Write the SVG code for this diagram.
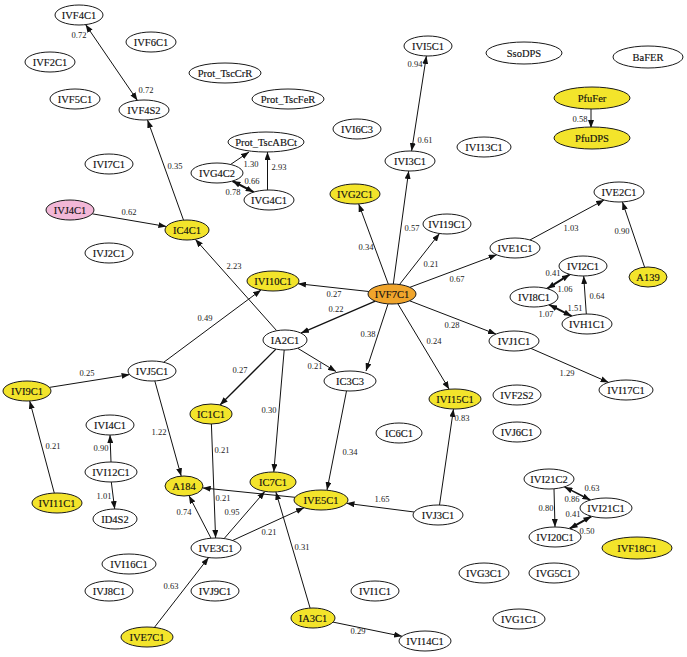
<svg xmlns="http://www.w3.org/2000/svg" width="687" height="657" viewBox="0 0 687 657">
<style>
.n ellipse{fill:#fff;stroke:#1a1a1a;stroke-width:1}
.n.y ellipse{fill:#f3e42b}
.n.o ellipse{fill:#f0a52c}
.n.p ellipse{fill:#f2b7d7}
.n text{font-family:"Liberation Serif",serif;font-size:10.5px;fill:#111;text-anchor:middle;stroke:#111;stroke-width:0.15}
.e line{stroke:#111;stroke-width:1;marker-end:url(#ah)}
.e line.d{marker-start:url(#ah)}
.e line.b{stroke-width:2}
.l text{font-family:"Liberation Serif",serif;font-size:8.5px;fill:#222;text-anchor:middle}
</style>
<defs>
<marker id="ah" viewBox="0 0 8 6" refX="8" refY="3" markerWidth="8" markerHeight="6" markerUnits="userSpaceOnUse" orient="auto-start-reverse"><path d="M0,0 L8,3 L0,6 z" fill="#111"/></marker>
</defs>
<rect width="687" height="657" fill="#fff"/>
<g id="connectors" class="e">
<line class="d" x1="137.4" y1="100.4" x2="85.6" y2="24.6"/>
<line x1="183.5" y1="220.1" x2="147.5" y2="119.9"/>
<line x1="92.2" y1="213.8" x2="166.4" y2="226.5"/>
<line x1="276.7" y1="330.7" x2="195.3" y2="239.3"/>
<line x1="163.7" y1="362.3" x2="261.1" y2="289.9"/>
<line x1="49.4" y1="387.4" x2="129.6" y2="374.6"/>
<line x1="54.3" y1="493.1" x2="29.7" y2="400.9"/>
<line x1="154.8" y1="380.9" x2="181.2" y2="476.1"/>
<line x1="275.9" y1="349.1" x2="220" y2="405" style="stroke-width:1.3"/>
<line x1="284.2" y1="350" x2="273.8" y2="472"/>
<line x1="297.6" y1="348.2" x2="336" y2="371.5"/>
<line x1="368.8" y1="291.5" x2="298" y2="283.7"/>
<line x1="375.3" y1="301.2" x2="301" y2="333.1" style="stroke-width:1.3"/>
<line x1="388" y1="304" x2="366" y2="371"/>
<line x1="397.8" y1="303.7" x2="449.2" y2="389.3"/>
<line x1="409.6" y1="300.8" x2="496" y2="334.1"/>
<line x1="409.9" y1="287.3" x2="496.7" y2="254.8"/>
<line x1="399.5" y1="284.5" x2="439.5" y2="233.5"/>
<line x1="393.3" y1="284" x2="408.7" y2="171"/>
<line x1="388.3" y1="284.1" x2="358.7" y2="203.9"/>
<line class="d" x1="411.6" y1="151" x2="426.4" y2="56"/>
<line x1="529.9" y1="240" x2="604.1" y2="200"/>
<line x1="644.6" y1="267.2" x2="622.4" y2="201.9"/>
<line class="d b" x1="547.2" y1="288.7" x2="569.8" y2="274.4"/>
<line x1="586.3" y1="314" x2="583.7" y2="276"/>
<line class="d b" x1="549.2" y1="304.7" x2="571.6" y2="316.1"/>
<line x1="530.9" y1="348.4" x2="608.6" y2="382.4"/>
<line x1="439.5" y1="505" x2="453.5" y2="409"/>
<line x1="414.2" y1="512" x2="346.5" y2="503.3"/>
<line x1="346.5" y1="391" x2="327" y2="490"/>
<line x1="295" y1="497.3" x2="202.7" y2="487.9"/>
<line x1="211.4" y1="424" x2="215.6" y2="538"/>
<line x1="211" y1="538.2" x2="189" y2="495.7"/>
<line x1="224.2" y1="538.5" x2="264.9" y2="491.4"/>
<line x1="232.5" y1="540.5" x2="304" y2="507.8"/>
<line x1="154.4" y1="627.4" x2="208.6" y2="557.6"/>
<line x1="310.1" y1="608.1" x2="275.9" y2="491.9"/>
<line x1="333" y1="622.1" x2="402.1" y2="636.3"/>
<line x1="111" y1="462" x2="110" y2="435"/>
<line x1="111.3" y1="482" x2="114.7" y2="509"/>
<line x1="230.5" y1="164.5" x2="249" y2="152"/>
<line x1="267.5" y1="190" x2="267.5" y2="152"/>
<line class="d b" x1="232.5" y1="181" x2="253.7" y2="192.1"/>
<line x1="591" y1="108" x2="591" y2="128"/>
<line x1="554" y1="489" x2="555" y2="527"/>
<line class="d" x1="564.5" y1="486.9" x2="590.3" y2="500" style="stroke-width:1.5"/>
<line class="d b" x1="591.4" y1="516.3" x2="569.6" y2="528.7"/>
</g>
<g id="edge-labels" class="l">
<text x="79" y="38">0.72</text>
<text x="146" y="93">0.72</text>
<text x="175" y="169">0.35</text>
<text x="129" y="215">0.62</text>
<text x="234" y="269">2.23</text>
<text x="205" y="321">0.49</text>
<text x="87" y="376">0.25</text>
<text x="53" y="449">0.21</text>
<text x="159" y="435">1.22</text>
<text x="240" y="373">0.27</text>
<text x="269" y="413">0.30</text>
<text x="315" y="369">0.21</text>
<text x="334" y="297">0.27</text>
<text x="336" y="312">0.22</text>
<text x="368" y="337">0.38</text>
<text x="434" y="344">0.24</text>
<text x="452" y="328">0.28</text>
<text x="457" y="282">0.67</text>
<text x="431" y="267">0.21</text>
<text x="412" y="231">0.57</text>
<text x="366" y="250">0.34</text>
<text x="415" y="67">0.94</text>
<text x="425" y="143">0.61</text>
<text x="571" y="231">1.03</text>
<text x="622" y="234">0.90</text>
<text x="553" y="276">0.41</text>
<text x="565" y="292">1.06</text>
<text x="597" y="299">0.64</text>
<text x="575" y="311">1.51</text>
<text x="546" y="317">1.07</text>
<text x="567" y="376">1.29</text>
<text x="462" y="421">0.83</text>
<text x="382" y="502">1.65</text>
<text x="350" y="455">0.34</text>
<text x="223" y="501">0.21</text>
<text x="222" y="453">0.21</text>
<text x="184" y="515">0.74</text>
<text x="232" y="515">0.95</text>
<text x="269" y="535">0.21</text>
<text x="171" y="589">0.63</text>
<text x="302" y="550">0.31</text>
<text x="358" y="634">0.29</text>
<text x="101" y="451">0.90</text>
<text x="104" y="499">1.01</text>
<text x="251" y="167">1.30</text>
<text x="279" y="170">2.93</text>
<text x="252" y="184">0.66</text>
<text x="233" y="195">0.78</text>
<text x="580" y="122">0.58</text>
<text x="546" y="511">0.80</text>
<text x="592" y="491">0.63</text>
<text x="572" y="502">0.86</text>
<text x="573" y="517">0.41</text>
<text x="587" y="534">0.50</text>
</g>
<g id="IVF4C1" class="n"><ellipse cx="79" cy="15" rx="24" ry="10"/><text x="79" y="18.5">IVF4C1</text></g>
<g id="IVF6C1" class="n"><ellipse cx="151" cy="42" rx="25" ry="10"/><text x="151" y="45.5">IVF6C1</text></g>
<g id="IVF2C1" class="n"><ellipse cx="50" cy="62" rx="25" ry="10"/><text x="50" y="65.5">IVF2C1</text></g>
<g id="IVF5C1" class="n"><ellipse cx="75" cy="99" rx="25" ry="10"/><text x="75" y="102.5">IVF5C1</text></g>
<g id="IVF4S2" class="n"><ellipse cx="144" cy="110" rx="25" ry="10"/><text x="144" y="113.5">IVF4S2</text></g>
<g id="Prot_TscCrR" class="n"><ellipse cx="225" cy="73" rx="36" ry="10"/><text x="225" y="76.5">Prot_TscCrR</text></g>
<g id="Prot_TscFeR" class="n"><ellipse cx="288" cy="99" rx="36" ry="10"/><text x="288" y="102.5">Prot_TscFeR</text></g>
<g id="IVI6C3" class="n"><ellipse cx="357" cy="129" rx="24" ry="10"/><text x="357" y="132.5">IVI6C3</text></g>
<g id="Prot_TscABCt" class="n"><ellipse cx="266" cy="142" rx="38" ry="10"/><text x="266" y="145.5">Prot_TscABCt</text></g>
<g id="IVG4C2" class="n"><ellipse cx="217" cy="173" rx="26" ry="10"/><text x="217" y="176.5">IVG4C2</text></g>
<g id="IVG4C1" class="n"><ellipse cx="269" cy="200" rx="25" ry="10"/><text x="269" y="203.5">IVG4C1</text></g>
<g id="IVI5C1" class="n"><ellipse cx="428" cy="46" rx="24" ry="10"/><text x="428" y="49.5">IVI5C1</text></g>
<g id="IVI3C1" class="n"><ellipse cx="410" cy="161" rx="25" ry="10"/><text x="410" y="164.5">IVI3C1</text></g>
<g id="IVG2C1" class="n y"><ellipse cx="355" cy="194" rx="25" ry="10"/><text x="355" y="197.5">IVG2C1</text></g>
<g id="SsoDPS" class="n"><ellipse cx="524" cy="53" rx="38" ry="11"/><text x="524" y="56.5">SsoDPS</text></g>
<g id="BaFER" class="n"><ellipse cx="648" cy="57" rx="35" ry="11"/><text x="648" y="60.5">BaFER</text></g>
<g id="PfuFer" class="n y"><ellipse cx="592" cy="98" rx="38" ry="11"/><text x="592" y="101.5">PfuFer</text></g>
<g id="PfuDPS" class="n y"><ellipse cx="592" cy="138" rx="38" ry="11"/><text x="592" y="141.5">PfuDPS</text></g>
<g id="IVI13C1" class="n"><ellipse cx="484" cy="147" rx="27" ry="10"/><text x="484" y="150.5">IVI13C1</text></g>
<g id="IVE2C1" class="n"><ellipse cx="619" cy="192" rx="25" ry="10"/><text x="619" y="195.5">IVE2C1</text></g>
<g id="IVI7C1" class="n"><ellipse cx="109" cy="164" rx="24" ry="10"/><text x="109" y="167.5">IVI7C1</text></g>
<g id="IVJ4C1" class="n p"><ellipse cx="70" cy="210" rx="24" ry="10"/><text x="70" y="213.5">IVJ4C1</text></g>
<g id="IC4C1" class="n y"><ellipse cx="187" cy="230" rx="22" ry="10"/><text x="187" y="233.5">IC4C1</text></g>
<g id="IVJ2C1" class="n"><ellipse cx="109" cy="253" rx="24" ry="10"/><text x="109" y="256.5">IVJ2C1</text></g>
<g id="IVI10C1" class="n y"><ellipse cx="273" cy="281" rx="26" ry="10"/><text x="273" y="284.5">IVI10C1</text></g>
<g id="IVF7C1" class="n o"><ellipse cx="392" cy="294" rx="24" ry="10"/><text x="392" y="297.5">IVF7C1</text></g>
<g id="IVI19C1" class="n"><ellipse cx="447" cy="224" rx="24" ry="10"/><text x="447" y="227.5">IVI19C1</text></g>
<g id="IVE1C1" class="n"><ellipse cx="515" cy="248" rx="25" ry="10"/><text x="515" y="251.5">IVE1C1</text></g>
<g id="IVI2C1" class="n"><ellipse cx="583" cy="266" rx="24" ry="10"/><text x="583" y="269.5">IVI2C1</text></g>
<g id="A139" class="n y"><ellipse cx="648" cy="277" rx="19" ry="10"/><text x="648" y="280.5">A139</text></g>
<g id="IVI8C1" class="n"><ellipse cx="534" cy="297" rx="24" ry="10"/><text x="534" y="300.5">IVI8C1</text></g>
<g id="IVH1C1" class="n"><ellipse cx="587" cy="324" rx="25" ry="10"/><text x="587" y="327.5">IVH1C1</text></g>
<g id="IA2C1" class="n"><ellipse cx="285" cy="340" rx="22" ry="10"/><text x="285" y="343.5">IA2C1</text></g>
<g id="IVJ1C1" class="n"><ellipse cx="514" cy="341" rx="25" ry="10"/><text x="514" y="344.5">IVJ1C1</text></g>
<g id="IVJ5C1" class="n"><ellipse cx="152" cy="371" rx="24" ry="10"/><text x="152" y="374.5">IVJ5C1</text></g>
<g id="IC3C3" class="n"><ellipse cx="350" cy="381" rx="26" ry="10"/><text x="350" y="384.5">IC3C3</text></g>
<g id="IVI9C1" class="n y"><ellipse cx="27" cy="391" rx="24" ry="10"/><text x="27" y="394.5">IVI9C1</text></g>
<g id="IVI17C1" class="n"><ellipse cx="626" cy="390" rx="27" ry="10"/><text x="626" y="393.5">IVI17C1</text></g>
<g id="IVF2S2" class="n"><ellipse cx="517" cy="395" rx="24" ry="10"/><text x="517" y="398.5">IVF2S2</text></g>
<g id="IVI15C1" class="n y"><ellipse cx="455" cy="399" rx="26" ry="10"/><text x="455" y="402.5">IVI15C1</text></g>
<g id="IC1C1" class="n y"><ellipse cx="211" cy="414" rx="21" ry="10"/><text x="211" y="417.5">IC1C1</text></g>
<g id="IVI4C1" class="n"><ellipse cx="110" cy="425" rx="24" ry="10"/><text x="110" y="428.5">IVI4C1</text></g>
<g id="IC6C1" class="n"><ellipse cx="399" cy="433" rx="23" ry="10"/><text x="399" y="436.5">IC6C1</text></g>
<g id="IVJ6C1" class="n"><ellipse cx="517" cy="432" rx="24" ry="10"/><text x="517" y="435.5">IVJ6C1</text></g>
<g id="IVI12C1" class="n"><ellipse cx="111" cy="472" rx="26" ry="10"/><text x="111" y="475.5">IVI12C1</text></g>
<g id="IC7C1" class="n y"><ellipse cx="273" cy="482" rx="23" ry="10"/><text x="273" y="485.5">IC7C1</text></g>
<g id="A184" class="n y"><ellipse cx="184" cy="486" rx="19" ry="10"/><text x="184" y="489.5">A184</text></g>
<g id="IVE5C1" class="n y"><ellipse cx="321" cy="500" rx="27" ry="10"/><text x="321" y="503.5">IVE5C1</text></g>
<g id="IVI11C1" class="n y"><ellipse cx="57" cy="503" rx="25" ry="10"/><text x="57" y="506.5">IVI11C1</text></g>
<g id="IVJ3C1" class="n"><ellipse cx="438" cy="515" rx="25" ry="10"/><text x="438" y="518.5">IVJ3C1</text></g>
<g id="IVI21C2" class="n"><ellipse cx="549" cy="479" rx="25" ry="10"/><text x="549" y="482.5">IVI21C2</text></g>
<g id="IVI21C1" class="n"><ellipse cx="606" cy="508" rx="26" ry="10"/><text x="606" y="511.5">IVI21C1</text></g>
<g id="ID4S2" class="n"><ellipse cx="115" cy="519" rx="22" ry="10"/><text x="115" y="522.5">ID4S2</text></g>
<g id="IVI20C1" class="n"><ellipse cx="555" cy="537" rx="26" ry="10"/><text x="555" y="540.5">IVI20C1</text></g>
<g id="IVF18C1" class="n y"><ellipse cx="637" cy="548" rx="35" ry="11"/><text x="637" y="551.5">IVF18C1</text></g>
<g id="IVE3C1" class="n"><ellipse cx="216" cy="548" rx="25" ry="10"/><text x="216" y="551.5">IVE3C1</text></g>
<g id="IVI16C1" class="n"><ellipse cx="129" cy="564" rx="27" ry="10"/><text x="129" y="567.5">IVI16C1</text></g>
<g id="IVG3C1" class="n"><ellipse cx="484" cy="573" rx="25" ry="10"/><text x="484" y="576.5">IVG3C1</text></g>
<g id="IVG5C1" class="n"><ellipse cx="554" cy="573" rx="25" ry="10"/><text x="554" y="576.5">IVG5C1</text></g>
<g id="IVJ8C1" class="n"><ellipse cx="109" cy="591" rx="24" ry="10"/><text x="109" y="594.5">IVJ8C1</text></g>
<g id="IVJ9C1" class="n"><ellipse cx="215" cy="591" rx="24" ry="10"/><text x="215" y="594.5">IVJ9C1</text></g>
<g id="IVI1C1" class="n"><ellipse cx="375" cy="591" rx="24" ry="10"/><text x="375" y="594.5">IVI1C1</text></g>
<g id="IVG1C1" class="n"><ellipse cx="519" cy="619" rx="26" ry="10"/><text x="519" y="622.5">IVG1C1</text></g>
<g id="IA3C1" class="n y"><ellipse cx="313" cy="618" rx="22" ry="10"/><text x="313" y="621.5">IA3C1</text></g>
<g id="IVE7C1" class="n y"><ellipse cx="147" cy="637" rx="26" ry="10"/><text x="147" y="640.5">IVE7C1</text></g>
<g id="IVI14C1" class="n"><ellipse cx="425" cy="641" rx="26" ry="10"/><text x="425" y="644.5">IVI14C1</text></g>
</svg>
